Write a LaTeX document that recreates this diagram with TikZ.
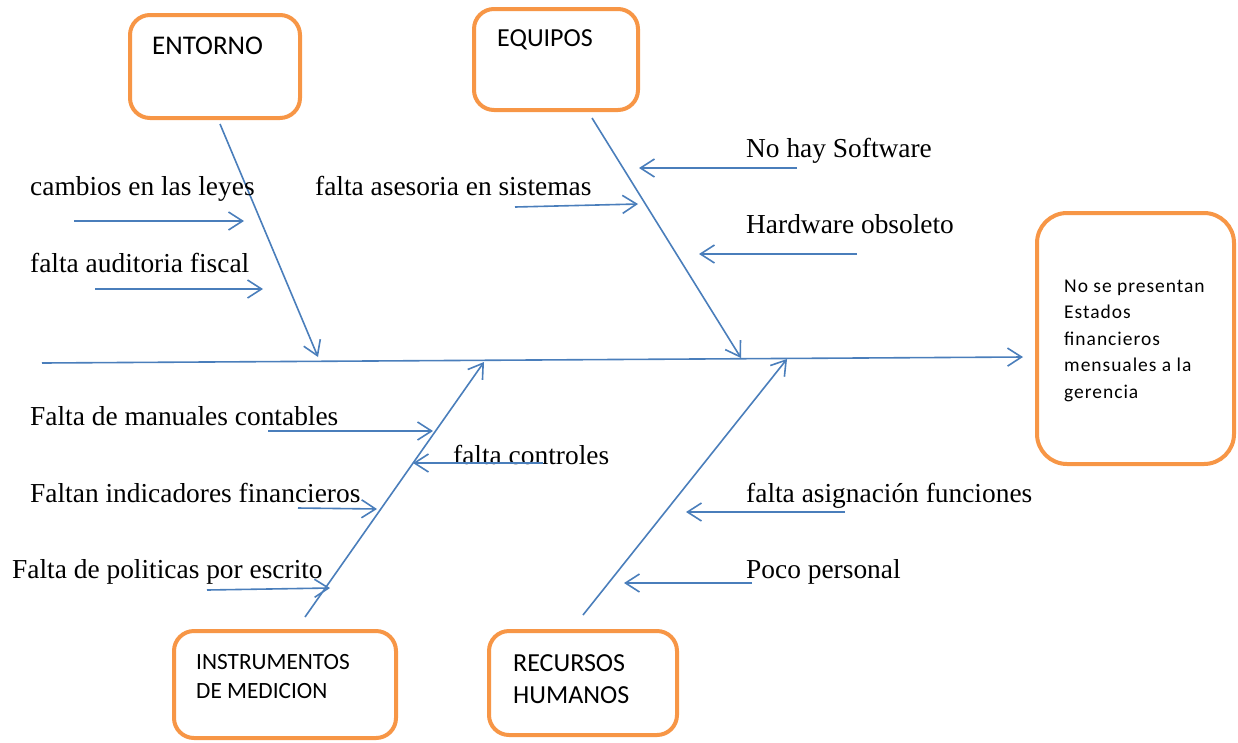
\documentclass[tikz,border=0pt]{standalone}
\usepackage{fontspec}
\setmainfont{Liberation Serif}
\newfontfamily\boxfont{Carlito}
\newfontfamily\effectfont[LetterSpace=5]{Carlito}
\usetikzlibrary{arrows.meta}
\definecolor{boneblue}{HTML}{4A7EBB}
\definecolor{boxorange}{HTML}{F79646}
\begin{document}
\begin{tikzpicture}[x=1pt,y=-1pt,
  catbox/.style={draw=boxorange, line width=4pt, rounded corners=20pt, fill=white, inner sep=0pt},
  bone/.style={draw=boneblue, line width=1.6pt, -{Straight Barb[length=14pt,width=18pt]}},
  cause/.style={font=\fontsize{27.4}{32}\selectfont, anchor=base west, inner sep=0pt},
  cat/.style={font=\boxfont\fontsize{26}{32}\selectfont, anchor=base west, inner sep=0pt},
  effect/.style={font=\effectfont\fontsize{19.5}{24}\selectfont, anchor=base west, inner sep=0pt}]
\useasboundingbox (0,0) rectangle (1238,742);

% category boxes and the effect box
\node[catbox, minimum width=170pt, minimum height=103pt] (entorno) at (215,66.5) {};
\node[catbox, minimum width=164pt, minimum height=101pt] (equipos) at (556,59.5) {};
\node[catbox, minimum width=222pt, minimum height=107pt] (instr) at (285,684.5) {};
\node[catbox, minimum width=188pt, minimum height=104pt] (rrhh) at (583,683) {};
\node[catbox, rounded corners=30pt, minimum width=197pt, minimum height=251pt] (efecto) at (1135.5,338.5) {};

\node[cat, font=\boxfont\fontsize{27}{32}\selectfont] (tEntorno) at (152,54) {ENTORNO};
\node[cat] (tEquipos) at (497,46) {EQUIPOS};
\node[cat, font=\boxfont\fontsize{23.3}{28}\selectfont] (tInstrA) at (196,669) {INSTRUMENTOS};
\node[cat, font=\boxfont\fontsize{23.3}{28}\selectfont] (tInstrB) at (196,698) {DE MEDICION};
\node[cat] (tRrhhA) at (513,671) {RECURSOS};
\node[cat] (tRrhhB) at (513,703) {HUMANOS};

\node[effect] (e1) at (1064,292) {No se presentan};
\node[effect] (e2) at (1064,318.5) {Estados};
\node[effect] (e3) at (1064,345) {financieros};
\node[effect] (e4) at (1064,371.5) {mensuales a la};
\node[effect] (e5) at (1064,398) {gerencia};

% spine
\coordinate (spineL) at (42,363);
\coordinate (spineR) at (1023,357);
\draw[bone] (spineL) -- (spineR);

% main bones
\coordinate (bEntS) at (220,124);  \coordinate (bEntT) at (318,357);
\coordinate (bEquS) at (592,118);  \coordinate (bEquT) at (741,358);
\coordinate (bInsS) at (305,617);  \coordinate (bInsT) at (484,362);
\coordinate (bRhS)  at (583,615);  \coordinate (bRhT)  at (787,359);
\draw[bone] (bEntS) -- (bEntT);
\draw[bone] (bEquS) -- (bEquT);
\draw[bone] (bInsS) -- (bInsT);
\draw[bone] (bRhS) -- (bRhT);

% causes
\node[cause] (c1) at (30,195) {cambios en las leyes};
\node[cause] (c2) at (30,272) {falta auditoria fiscal};
\node[cause] (c3) at (315,195) {falta asesoria en sistemas};
\node[cause] (c4) at (746,157) {No hay Software};
\node[cause] (c5) at (746,233) {Hardware obsoleto};
\node[cause] (c6) at (30,425) {Falta de manuales contables};
\node[cause] (c7) at (453,464) {falta controles};
\node[cause] (c8) at (30,502) {Faltan indicadores financieros};
\node[cause] (c9) at (12,578) {Falta de politicas por escrito};
\node[cause] (c10) at (746,502) {falta asignación funciones};
\node[cause] (c11) at (746,578) {Poco personal};

% cause arrows
\coordinate (a1s) at (74,221);   \coordinate (a1t) at (244,221);
\coordinate (a2s) at (95,289);   \coordinate (a2t) at (263,289);
\coordinate (a3s) at (515,207);  \coordinate (a3t) at (638,204);
\coordinate (a4s) at (797,168);  \coordinate (a4t) at (639,168);
\coordinate (a5s) at (857,254);  \coordinate (a5t) at (699,254);
\coordinate (a6s) at (268,431);  \coordinate (a6t) at (433,431);
\coordinate (a7s) at (543,463);  \coordinate (a7t) at (413,463);
\coordinate (a8s) at (298,508);  \coordinate (a8t) at (377,509);
\coordinate (a9s) at (207,590);  \coordinate (a9t) at (330,588);
\coordinate (a10s) at (845,512); \coordinate (a10t) at (686,512);
\coordinate (a11s) at (752,583); \coordinate (a11t) at (624,583);
\foreach \i in {1,...,11} {\draw[bone] (a\i s) -- (a\i t);}
\end{tikzpicture}
\end{document}
